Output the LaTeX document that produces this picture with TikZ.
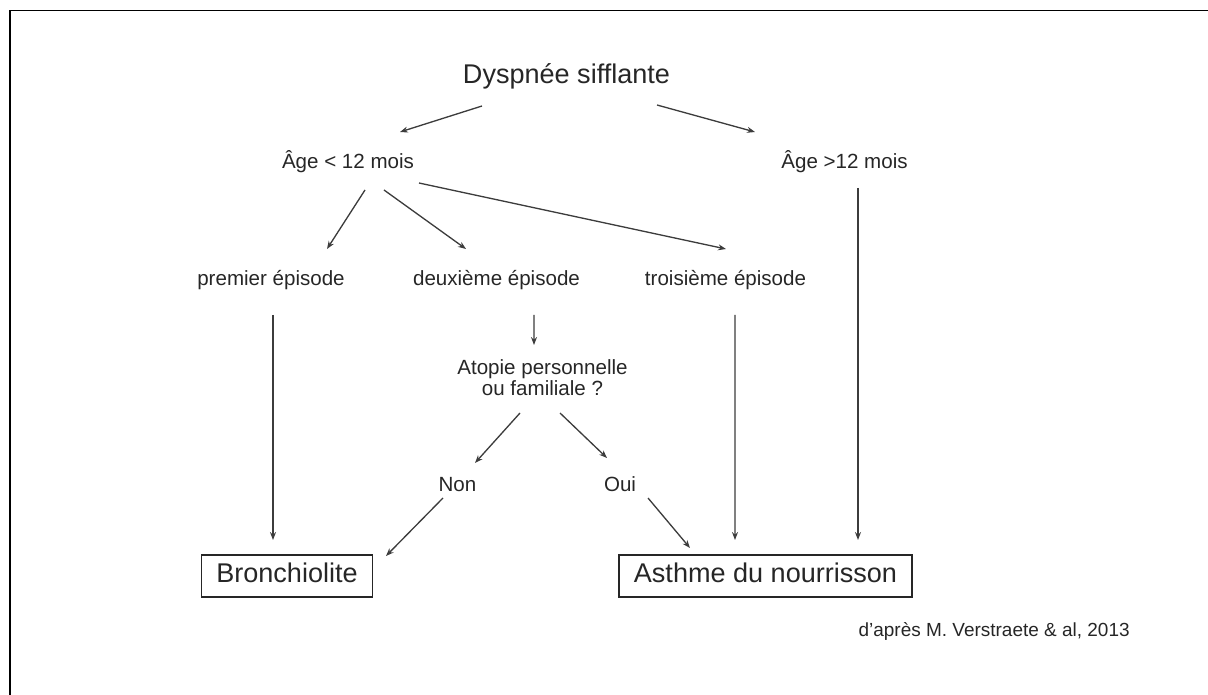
\documentclass[tikz,border=0pt]{standalone}
\usepackage{fontspec}
\setmainfont{Liberation Sans}
\usetikzlibrary{arrows.meta,calc}
\definecolor{ink}{HTML}{262626}

\begin{document}
\begin{tikzpicture}[x=0.02cm, y=-0.02cm,
  lbl/.style={font=\fontsize{11.7}{12.5}\selectfont, text=ink, inner sep=0pt, align=center},
  big/.style={font=\fontsize{15.4}{18}\selectfont, text=ink, inner sep=0pt},
  box/.style={big, draw=ink, line width=0.9pt, inner xsep=0.3cm,
              text height=0.72em, text depth=0pt, minimum height=0.84cm},
  arrow/.style={-{Stealth[length=4.5pt,width=3.4pt]}, line width=0.75pt, draw=ink!90}
]
\useasboundingbox (0,0) rectangle (1208,695);

%% Frame (open on the right and at the bottom)
\draw[line width=1.1pt] (10,695) -- (10,10.5) -- (1208,10.5);

%% Nodes top to bottom
\node[big, anchor=base] (dys)  at (566.5,84)  {Dyspnée sifflante};
\node[lbl, anchor=base] (lt)   at (348,169)   {Âge < 12 mois};
\node[lbl, anchor=base] (gt)   at (844.5,169) {Âge >12 mois};
\node[lbl, anchor=base] (ep1)  at (271,286)   {premier épisode};
\node[lbl, anchor=base] (ep2)  at (496.5,286) {deuxième épisode};
\node[lbl, anchor=base] (ep3)  at (725.5,286) {troisième épisode};
\node[lbl, anchor=base] (atop) at (542.5,396) {Atopie personnelle\\ou familiale ?};
\node[lbl, anchor=base] (non)  at (457.5,492) {Non};
\node[lbl, anchor=base] (oui)  at (620,492)   {Oui};
\node[box] (bron) at (287,576)   {Bronchiolite};
\node[box] (asth) at (765.5,576) {Asthme du nourrisson};
\node[lbl, font=\fontsize{10.8}{13}\selectfont, anchor=base east] (src) at (1130,637)
  {d'après M. Verstraete \& al, 2013};

%% Arrows
\draw[arrow] ($(dys.base)+(-84.5,22)$) -- ($(lt.base)+(52,-37)$);
\draw[arrow] ($(dys.base)+(90.5,21)$)  -- ($(gt.base)+(-89.5,-37)$);
\draw[arrow] ($(lt.base)+(17,21)$)     -- ($(ep1.base)+(56,-37)$);
\draw[arrow] ($(lt.base)+(36,21)$)     -- ($(ep2.base)+(-30.5,-37)$);
\draw[arrow] ($(lt.base)+(71,14)$)     -- ($(ep3.base)+(0.5,-37)$);
\draw[arrow] ($(ep1.base)+(2,29)$)     -- ($(bron.center)+(-14,-36)$);
\draw[arrow] ($(ep2.base)+(37.5,29)$)  -- ($(atop.base)+(-8.5,-51)$);
\draw[arrow] ($(ep3.base)+(9.5,29)$)   -- ($(asth.center)+(-30.5,-36)$);
\draw[arrow] ($(gt.base)+(13.5,19)$)   -- ($(asth.center)+(92.5,-36)$);
\draw[arrow] ($(atop.base)+(-22.5,17)$) -- ($(non.base)+(17.5,-29)$);
\draw[arrow] ($(atop.base)+(17.5,17)$)  -- ($(oui.base)+(-13,-34)$);
\draw[arrow] ($(non.base)+(-14.5,6)$)   -- ($(bron.center)+(99,-20)$);
\draw[arrow] ($(oui.base)+(28,6)$)      -- ($(asth.center)+(-75.5,-28)$);

\end{tikzpicture}
\end{document}
